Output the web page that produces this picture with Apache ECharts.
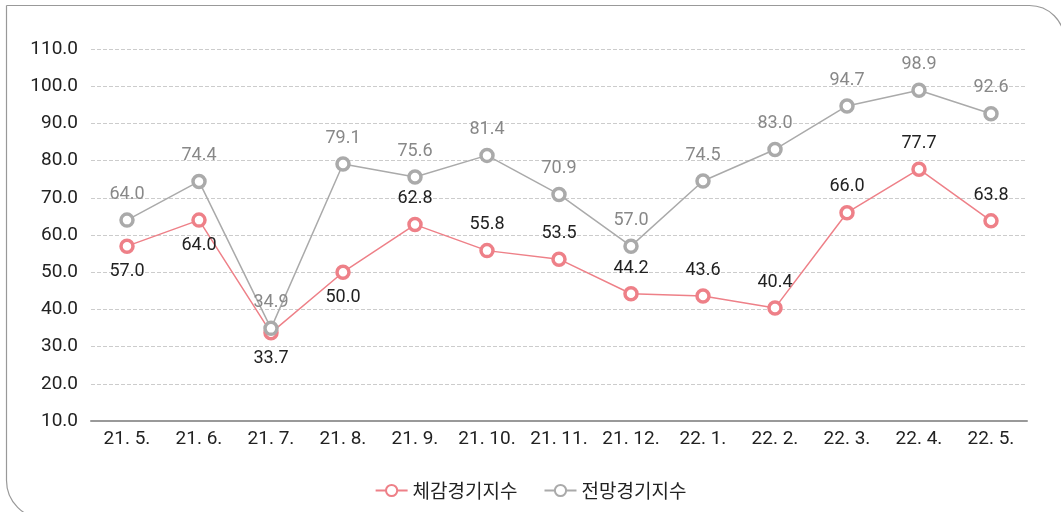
<!DOCTYPE html>
<html><head><meta charset="utf-8">
<script src="https://cdn.jsdelivr.net/npm/echarts@6/dist/echarts.min.js"></script>
<style>html,body{margin:0;padding:0;background:#fff}#c{width:1061px;height:512px}</style>
</head><body><div id="c"></div>
<script>
const categories = ['21. 5.','21. 6.','21. 7.','21. 8.','21. 9.','21. 10.','21. 11.','21. 12.','22. 1.','22. 2.','22. 3.','22. 4.','22. 5.'];
const seriesNames = ['체감경기지수','전망경기지수'];
const current = [57.0,64.0,33.7,50.0,62.8,55.8,53.5,44.2,43.6,40.4,66.0,77.7,63.8];
const outlook = [64.0,74.4,34.9,79.1,75.6,81.4,70.9,57.0,74.5,83.0,94.7,98.9,92.6];
const currentBelow = [true,true,true,true,false,false,false,false,false,false,false,false,false];

const numFont = '"Roboto","Liberation Sans Narrow",sans-serif';
const krFont = '"Noto Sans CJK KR","Noto Sans",sans-serif';
const chart = echarts.init(document.getElementById('c'));
const pink = '#EE8088', gray = '#AAAAAA';
chart.setOption({
  animation:false,
  graphic:[{type:'rect',shape:{x:6.5,y:5.5,width:1058,height:513,r:[0,35,0,38]},style:{fill:'none',stroke:'#999',lineWidth:1.2},silent:true,z:-1}],
  grid:{left:91,right:34,top:49,bottom:91},
  legend:{bottom:7,left:'center',itemWidth:32,itemHeight:14,itemGap:26,
    textStyle:{fontFamily:krFont,fontSize:19,color:'#222'},
    data:seriesNames},
  xAxis:{type:'category',data:categories,boundaryGap:true,
    axisLine:{lineStyle:{color:'#999',width:2}},axisTick:{show:false},
    axisLabel:{interval:0,fontFamily:numFont,fontSize:19,color:'#222',margin:9}},
  yAxis:{type:'value',min:10,max:110,interval:10,
    axisLine:{show:false},axisTick:{show:false},
    splitLine:{lineStyle:{color:'#ccc',type:'dashed',width:1}},
    axisLabel:{fontFamily:numFont,fontSize:19,color:'#222',margin:13,formatter:v=>v.toFixed(1)}},
  series:[
    {name:seriesNames[0],type:'line',
     data:current.map((v,i)=>({value:v,label:{position:currentBelow[i]?'bottom':'top'}})),
     symbol:'circle',symbolSize:12,
     lineStyle:{color:pink,width:1.5},
     itemStyle:{color:'#fff',borderColor:pink,borderWidth:3.5},
     label:{show:true,distance:9,fontFamily:numFont,fontSize:18,color:'#222',formatter:p=>p.value.toFixed(1)}},
    {name:seriesNames[1],type:'line',data:outlook,
     symbol:'circle',symbolSize:12,
     lineStyle:{color:gray,width:1.5},
     itemStyle:{color:'#fff',borderColor:gray,borderWidth:3.5},
     label:{show:true,position:'top',distance:9,fontFamily:numFont,fontSize:18,color:'#888',formatter:p=>p.value.toFixed(1)}}
  ]
});
</script></body></html>
